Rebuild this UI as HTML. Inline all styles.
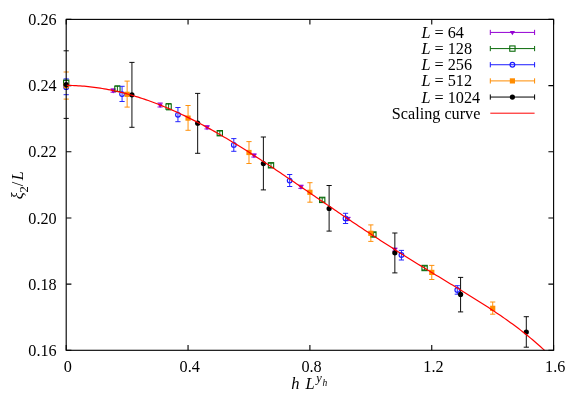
<!DOCTYPE html><html><head><meta charset="utf-8"><style>html,body{margin:0;padding:0;background:#fff}svg{display:block;will-change:transform}text{font-family:"Liberation Serif",serif;font-size:16.2px;fill:#000}</style></head><body>
<svg width="581" height="407" viewBox="0 0 581 407">
<rect width="581" height="407" fill="#fff"/>
<path d="M66.20,350.3 v-5.2 M66.20,19.4 v5.2 M188.05,350.3 v-5.2 M188.05,19.4 v5.2 M309.90,350.3 v-5.2 M309.90,19.4 v5.2 M431.75,350.3 v-5.2 M431.75,19.4 v5.2 M553.60,350.3 v-5.2 M553.60,19.4 v5.2 M66.2,350.30 h5.2 M553.6,350.30 h-5.2 M66.2,284.12 h5.2 M553.6,284.12 h-5.2 M66.2,217.94 h5.2 M553.6,217.94 h-5.2 M66.2,151.76 h5.2 M553.6,151.76 h-5.2 M66.2,85.58 h5.2 M553.6,85.58 h-5.2 M66.2,19.40 h5.2 M553.6,19.40 h-5.2" stroke="#000" stroke-width="1.1" fill="none"/>
<path d="M63.60,84.22 h5.2 M63.60,86.62 h5.2" stroke="#9400d3" stroke-width="0.95" fill="none"/>
<path d="M63.60,83.92 L68.80,83.92 L66.20,88.32 Z" fill="#9400d3"/>
<path d="M113.15,88.83 V92.23 M110.55,88.83 h5.2 M110.55,92.23 h5.2" stroke="#9400d3" stroke-width="0.95" fill="none"/>
<path d="M110.55,89.03 L115.75,89.03 L113.15,93.43 Z" fill="#9400d3"/>
<path d="M160.10,102.99 V106.99 M157.50,102.99 h5.2 M157.50,106.99 h5.2" stroke="#9400d3" stroke-width="0.95" fill="none"/>
<path d="M157.50,103.49 L162.70,103.49 L160.10,107.89 Z" fill="#9400d3"/>
<path d="M207.05,125.74 V128.94 M204.45,125.74 h5.2 M204.45,128.94 h5.2" stroke="#9400d3" stroke-width="0.95" fill="none"/>
<path d="M204.45,125.84 L209.65,125.84 L207.05,130.24 Z" fill="#9400d3"/>
<path d="M254.00,153.86 V157.06 M251.40,153.86 h5.2 M251.40,157.06 h5.2" stroke="#9400d3" stroke-width="0.95" fill="none"/>
<path d="M251.40,153.96 L256.60,153.96 L254.00,158.36 Z" fill="#9400d3"/>
<path d="M300.95,185.21 V188.41 M298.35,185.21 h5.2 M298.35,188.41 h5.2" stroke="#9400d3" stroke-width="0.95" fill="none"/>
<path d="M298.35,185.31 L303.55,185.31 L300.95,189.71 Z" fill="#9400d3"/>
<path d="M347.90,217.35 V220.35 M345.30,217.35 h5.2 M345.30,220.35 h5.2" stroke="#9400d3" stroke-width="0.95" fill="none"/>
<path d="M345.30,217.35 L350.50,217.35 L347.90,221.75 Z" fill="#9400d3"/>
<path d="M394.85,248.12 V251.12 M392.25,248.12 h5.2 M392.25,251.12 h5.2" stroke="#9400d3" stroke-width="0.95" fill="none"/>
<path d="M392.25,248.12 L397.45,248.12 L394.85,252.52 Z" fill="#9400d3"/>
<path d="M63.60,80.40 h5.2 M63.60,85.00 h5.2" stroke="#0a6b0a" stroke-width="0.95" fill="none"/>
<rect x="63.55" y="80.05" width="5.3" height="5.3" fill="none" stroke="#0a6b0a" stroke-width="1.1"/>
<path d="M117.40,85.90 V91.60 M114.80,85.90 h5.2 M114.80,91.60 h5.2" stroke="#0a6b0a" stroke-width="0.95" fill="none"/>
<rect x="114.75" y="86.15" width="5.3" height="5.3" fill="none" stroke="#0a6b0a" stroke-width="1.1"/>
<path d="M168.60,103.60 V109.90 M166.00,103.60 h5.2 M166.00,109.90 h5.2" stroke="#0a6b0a" stroke-width="0.95" fill="none"/>
<rect x="165.95" y="103.95" width="5.3" height="5.3" fill="none" stroke="#0a6b0a" stroke-width="1.1"/>
<path d="M219.80,131.00 V135.40 M217.20,131.00 h5.2 M217.20,135.40 h5.2" stroke="#0a6b0a" stroke-width="0.95" fill="none"/>
<rect x="217.15" y="130.55" width="5.3" height="5.3" fill="none" stroke="#0a6b0a" stroke-width="1.1"/>
<path d="M271.00,163.20 V167.40 M268.40,163.20 h5.2 M268.40,167.40 h5.2" stroke="#0a6b0a" stroke-width="0.95" fill="none"/>
<rect x="268.35" y="162.65" width="5.3" height="5.3" fill="none" stroke="#0a6b0a" stroke-width="1.1"/>
<path d="M322.20,197.90 V201.90 M319.60,197.90 h5.2 M319.60,201.90 h5.2" stroke="#0a6b0a" stroke-width="0.95" fill="none"/>
<rect x="319.55" y="197.25" width="5.3" height="5.3" fill="none" stroke="#0a6b0a" stroke-width="1.1"/>
<path d="M373.40,232.60 V236.40 M370.80,232.60 h5.2 M370.80,236.40 h5.2" stroke="#0a6b0a" stroke-width="0.95" fill="none"/>
<rect x="370.75" y="231.85" width="5.3" height="5.3" fill="none" stroke="#0a6b0a" stroke-width="1.1"/>
<path d="M424.60,266.10 V269.90 M422.00,266.10 h5.2 M422.00,269.90 h5.2" stroke="#0a6b0a" stroke-width="0.95" fill="none"/>
<rect x="421.95" y="265.35" width="5.3" height="5.3" fill="none" stroke="#0a6b0a" stroke-width="1.1"/>
<path d="M63.60,78.90 h5.2 M63.60,94.70 h5.2" stroke="#1a1aff" stroke-width="0.95" fill="none"/>
<circle cx="66.20" cy="87.20" r="2.35" fill="none" stroke="#1a1aff" stroke-width="1.15"/>
<path d="M122.07,86.30 V101.50 M119.47,86.30 h5.2 M119.47,101.50 h5.2" stroke="#1a1aff" stroke-width="0.95" fill="none"/>
<circle cx="122.07" cy="94.10" r="2.35" fill="none" stroke="#1a1aff" stroke-width="1.15"/>
<path d="M177.94,107.50 V121.70 M175.34,107.50 h5.2 M175.34,121.70 h5.2" stroke="#1a1aff" stroke-width="0.95" fill="none"/>
<circle cx="177.94" cy="114.80" r="2.35" fill="none" stroke="#1a1aff" stroke-width="1.15"/>
<path d="M233.81,138.60 V151.30 M231.21,138.60 h5.2 M231.21,151.30 h5.2" stroke="#1a1aff" stroke-width="0.95" fill="none"/>
<circle cx="233.81" cy="144.90" r="2.35" fill="none" stroke="#1a1aff" stroke-width="1.15"/>
<path d="M289.68,174.50 V186.50 M287.08,174.50 h5.2 M287.08,186.50 h5.2" stroke="#1a1aff" stroke-width="0.95" fill="none"/>
<circle cx="289.68" cy="180.60" r="2.35" fill="none" stroke="#1a1aff" stroke-width="1.15"/>
<path d="M345.55,213.30 V223.50 M342.95,213.30 h5.2 M342.95,223.50 h5.2" stroke="#1a1aff" stroke-width="0.95" fill="none"/>
<circle cx="345.55" cy="218.40" r="2.35" fill="none" stroke="#1a1aff" stroke-width="1.15"/>
<path d="M401.42,250.40 V260.00 M398.82,250.40 h5.2 M398.82,260.00 h5.2" stroke="#1a1aff" stroke-width="0.95" fill="none"/>
<circle cx="401.42" cy="255.00" r="2.35" fill="none" stroke="#1a1aff" stroke-width="1.15"/>
<path d="M457.29,285.70 V294.20 M454.69,285.70 h5.2 M454.69,294.20 h5.2" stroke="#1a1aff" stroke-width="0.95" fill="none"/>
<circle cx="457.29" cy="290.00" r="2.35" fill="none" stroke="#1a1aff" stroke-width="1.15"/>
<path d="M63.60,72.00 h5.2 M63.60,99.10 h5.2" stroke="#ff8c00" stroke-width="0.95" fill="none"/>
<rect x="63.60" y="83.00" width="5.2" height="5.2" fill="#ff8c00"/>
<path d="M127.13,81.10 V107.10 M124.53,81.10 h5.2 M124.53,107.10 h5.2" stroke="#ff8c00" stroke-width="0.95" fill="none"/>
<rect x="124.53" y="91.70" width="5.2" height="5.2" fill="#ff8c00"/>
<path d="M188.06,105.50 V130.30 M185.46,105.50 h5.2 M185.46,130.30 h5.2" stroke="#ff8c00" stroke-width="0.95" fill="none"/>
<rect x="185.46" y="115.50" width="5.2" height="5.2" fill="#ff8c00"/>
<path d="M248.99,141.60 V163.50 M246.39,141.60 h5.2 M246.39,163.50 h5.2" stroke="#ff8c00" stroke-width="0.95" fill="none"/>
<rect x="246.39" y="149.90" width="5.2" height="5.2" fill="#ff8c00"/>
<path d="M309.92,182.70 V202.20 M307.32,182.70 h5.2 M307.32,202.20 h5.2" stroke="#ff8c00" stroke-width="0.95" fill="none"/>
<rect x="307.32" y="189.70" width="5.2" height="5.2" fill="#ff8c00"/>
<path d="M370.85,224.90 V241.40 M368.25,224.90 h5.2 M368.25,241.40 h5.2" stroke="#ff8c00" stroke-width="0.95" fill="none"/>
<rect x="368.25" y="230.70" width="5.2" height="5.2" fill="#ff8c00"/>
<path d="M431.78,265.40 V279.50 M429.18,265.40 h5.2 M429.18,279.50 h5.2" stroke="#ff8c00" stroke-width="0.95" fill="none"/>
<rect x="429.18" y="269.80" width="5.2" height="5.2" fill="#ff8c00"/>
<path d="M492.71,302.00 V314.20 M490.11,302.00 h5.2 M490.11,314.20 h5.2" stroke="#ff8c00" stroke-width="0.95" fill="none"/>
<rect x="490.11" y="305.70" width="5.2" height="5.2" fill="#ff8c00"/>
<path d="M63.60,50.80 h5.2 M63.60,118.40 h5.2" stroke="#000000" stroke-width="0.95" fill="none"/>
<circle cx="66.20" cy="84.60" r="2.6" fill="#000000"/>
<path d="M131.93,62.40 V127.30 M129.33,62.40 h5.2 M129.33,127.30 h5.2" stroke="#000000" stroke-width="0.95" fill="none"/>
<circle cx="131.93" cy="94.80" r="2.6" fill="#000000"/>
<path d="M197.66,93.40 V153.30 M195.06,93.40 h5.2 M195.06,153.30 h5.2" stroke="#000000" stroke-width="0.95" fill="none"/>
<circle cx="197.66" cy="123.20" r="2.6" fill="#000000"/>
<path d="M263.39,137.00 V189.90 M260.79,137.00 h5.2 M260.79,189.90 h5.2" stroke="#000000" stroke-width="0.95" fill="none"/>
<circle cx="263.39" cy="163.60" r="2.6" fill="#000000"/>
<path d="M329.12,185.50 V231.10 M326.52,185.50 h5.2 M326.52,231.10 h5.2" stroke="#000000" stroke-width="0.95" fill="none"/>
<circle cx="329.12" cy="208.50" r="2.6" fill="#000000"/>
<path d="M394.85,233.00 V272.90 M392.25,233.00 h5.2 M392.25,272.90 h5.2" stroke="#000000" stroke-width="0.95" fill="none"/>
<circle cx="394.85" cy="252.80" r="2.6" fill="#000000"/>
<path d="M460.58,277.40 V311.90 M457.98,277.40 h5.2 M457.98,311.90 h5.2" stroke="#000000" stroke-width="0.95" fill="none"/>
<circle cx="460.58" cy="294.40" r="2.6" fill="#000000"/>
<path d="M526.31,316.70 V347.20 M523.71,316.70 h5.2 M523.71,347.20 h5.2" stroke="#000000" stroke-width="0.95" fill="none"/>
<circle cx="526.31" cy="332.00" r="2.6" fill="#000000"/>
<path d="M66.20,85.42 L68.20,85.44 L70.20,85.47 L72.21,85.52 L74.21,85.59 L76.21,85.68 L78.21,85.78 L80.21,85.91 L82.21,86.05 L84.22,86.21 L86.22,86.39 L88.22,86.59 L90.22,86.80 L92.22,87.04 L94.22,87.29 L96.23,87.56 L98.23,87.84 L100.23,88.15 L102.23,88.47 L104.23,88.81 L106.23,89.16 L108.24,89.54 L110.24,89.93 L112.24,90.34 L114.24,90.76 L116.24,91.21 L118.24,91.67 L120.25,92.14 L122.25,92.64 L124.25,93.15 L126.25,93.68 L128.25,94.22 L130.25,94.78 L132.26,95.35 L134.26,95.95 L136.26,96.56 L138.26,97.18 L140.26,97.82 L142.26,98.48 L144.27,99.15 L146.27,99.83 L148.27,100.54 L150.27,101.25 L152.27,101.99 L154.27,102.73 L156.28,103.50 L158.28,104.27 L160.28,105.07 L162.28,105.87 L164.28,106.69 L166.28,107.53 L168.29,108.37 L170.29,109.24 L172.29,110.11 L174.29,111.00 L176.29,111.91 L178.29,112.82 L180.30,113.75 L182.30,114.69 L184.30,115.65 L186.30,116.62 L188.30,117.60 L190.30,118.59 L192.31,119.59 L194.31,120.61 L196.31,121.64 L198.31,122.67 L200.31,123.73 L202.31,124.79 L204.32,125.86 L206.32,126.94 L208.32,128.04 L210.32,129.14 L212.32,130.26 L214.32,131.38 L216.33,132.52 L218.33,133.66 L220.33,134.82 L222.33,135.98 L224.33,137.15 L226.33,138.33 L228.34,139.52 L230.34,140.72 L232.34,141.93 L234.34,143.14 L236.34,144.37 L238.34,145.60 L240.35,146.83 L242.35,148.08 L244.35,149.33 L246.35,150.59 L248.35,151.86 L250.35,153.13 L252.36,154.41 L254.36,155.69 L256.36,156.98 L258.36,158.28 L260.36,159.58 L262.36,160.89 L264.37,162.20 L266.37,163.52 L268.37,164.84 L270.37,166.16 L272.37,167.49 L274.37,168.83 L276.38,170.16 L278.38,171.50 L280.38,172.85 L282.38,174.20 L284.38,175.55 L286.38,176.90 L288.39,178.26 L290.39,179.62 L292.39,180.98 L294.39,182.34 L296.39,183.70 L298.39,185.07 L300.40,186.44 L302.40,187.80 L304.40,189.17 L306.40,190.54 L308.40,191.91 L310.40,193.29 L312.41,194.66 L314.41,196.03 L316.41,197.40 L318.41,198.77 L320.41,200.14 L322.41,201.51 L324.42,202.88 L326.42,204.25 L328.42,205.62 L330.42,206.99 L332.42,208.35 L334.42,209.72 L336.43,211.08 L338.43,212.44 L340.43,213.80 L342.43,215.15 L344.43,216.51 L346.43,217.86 L348.44,219.21 L350.44,220.56 L352.44,221.90 L354.44,223.24 L356.44,224.58 L358.44,225.92 L360.45,227.25 L362.45,228.58 L364.45,229.91 L366.45,231.23 L368.45,232.55 L370.45,233.87 L372.46,235.18 L374.46,236.49 L376.46,237.79 L378.46,239.10 L380.46,240.39 L382.46,241.69 L384.47,242.98 L386.47,244.27 L388.47,245.55 L390.47,246.83 L392.47,248.11 L394.47,249.38 L396.48,250.65 L398.48,251.92 L400.48,253.18 L402.48,254.44 L404.48,255.70 L406.48,256.95 L408.49,258.20 L410.49,259.44 L412.49,260.68 L414.49,261.92 L416.49,263.16 L418.49,264.39 L420.50,265.63 L422.50,266.85 L424.50,268.08 L426.50,269.30 L428.50,270.53 L430.50,271.75 L432.51,272.97 L434.51,274.18 L436.51,275.40 L438.51,276.61 L440.51,277.83 L442.51,279.04 L444.52,280.26 L446.52,281.47 L448.52,282.68 L450.52,283.90 L452.52,285.11 L454.52,286.33 L456.53,287.55 L458.53,288.77 L460.53,289.99 L462.53,291.21 L464.53,292.44 L466.53,293.67 L468.54,294.91 L470.54,296.15 L472.54,297.39 L474.54,298.64 L476.54,299.90 L478.54,301.16 L480.55,302.43 L482.55,303.70 L484.55,304.98 L486.55,306.28 L488.55,307.58 L490.55,308.89 L492.56,310.20 L494.56,311.53 L496.56,312.88 L498.56,314.23 L500.56,315.60 L502.56,316.97 L504.57,318.37 L506.57,319.78 L508.57,321.20 L510.57,322.64 L512.57,324.10 L514.57,325.57 L516.58,327.06 L518.58,328.58 L520.58,330.11 L522.58,331.66 L524.58,333.24 L526.58,334.84 L528.59,336.46 L530.59,338.11 L532.59,339.78 L534.59,341.48 L536.59,343.21 L538.59,344.97 L540.60,346.75 L542.60,348.57 L544.60,350.42" stroke="#ff0000" stroke-width="1.2" fill="none"/>
<rect x="66.2" y="19.4" width="487.40" height="330.90" fill="none" stroke="#000" stroke-width="1.12"/>
<path d="M490.3,32.42 H534.6 M490.3,29.82 v5.2 M534.6,29.82 v5.2" stroke="#9400d3" stroke-width="1" fill="none"/>
<path d="M509.80,30.92 L515.00,30.92 L512.40,35.32 Z" fill="#9400d3"/>
<text x="421.5" y="37.8"><tspan style="font-style:italic">L</tspan> = 64</text>
<path d="M490.3,48.58 H534.6 M490.3,45.98 v5.2 M534.6,45.98 v5.2" stroke="#0a6b0a" stroke-width="1" fill="none"/>
<rect x="509.75" y="45.93" width="5.3" height="5.3" fill="none" stroke="#0a6b0a" stroke-width="1.1"/>
<text x="421.5" y="54.0"><tspan style="font-style:italic">L</tspan> = 128</text>
<path d="M490.3,64.74 H534.6 M490.3,62.13999999999999 v5.2 M534.6,62.13999999999999 v5.2" stroke="#1a1aff" stroke-width="1" fill="none"/>
<circle cx="512.40" cy="64.74" r="2.35" fill="none" stroke="#1a1aff" stroke-width="1.15"/>
<text x="421.5" y="70.1"><tspan style="font-style:italic">L</tspan> = 256</text>
<path d="M490.3,80.9 H534.6 M490.3,78.30000000000001 v5.2 M534.6,78.30000000000001 v5.2" stroke="#ff8c00" stroke-width="1" fill="none"/>
<rect x="509.80" y="78.30" width="5.2" height="5.2" fill="#ff8c00"/>
<text x="421.5" y="86.3"><tspan style="font-style:italic">L</tspan> = 512</text>
<path d="M490.3,97.05 H534.6 M490.3,94.45 v5.2 M534.6,94.45 v5.2" stroke="#000000" stroke-width="1" fill="none"/>
<circle cx="512.40" cy="97.05" r="2.6" fill="#000000"/>
<text x="421.5" y="102.5"><tspan style="font-style:italic">L</tspan> = 1024</text>
<path d="M490.3,113.2 H534.6" stroke="#ff0000" stroke-width="1" fill="none"/>
<text x="480.4" y="118.6" text-anchor="end">Scaling curve</text>
<text x="56.7" y="355.9" text-anchor="end">0.16</text>
<text x="56.7" y="289.7" text-anchor="end">0.18</text>
<text x="56.7" y="223.5" text-anchor="end">0.20</text>
<text x="56.7" y="157.4" text-anchor="end">0.22</text>
<text x="56.7" y="91.2" text-anchor="end">0.24</text>
<text x="56.7" y="25.0" text-anchor="end">0.26</text>
<text x="67.8" y="372.3" text-anchor="middle">0</text>
<text x="189.7" y="372.3" text-anchor="middle">0.4</text>
<text x="311.5" y="372.3" text-anchor="middle">0.8</text>
<text x="433.4" y="372.3" text-anchor="middle">1.2</text>
<text x="555.2" y="372.3" text-anchor="middle">1.6</text>
<text x="291.3" y="389.4" style="font-style:italic;font-size:16.5px">h</text>
<text x="305.6" y="389.4" style="font-style:italic;font-size:16.5px">L</text>
<text x="316.3" y="381.7" style="font-style:italic;font-size:12.5px">y</text>
<text x="322.6" y="385.5" style="font-style:italic;font-size:9.5px">h</text>
<g transform="translate(22.7,199.2) rotate(-90)"><text x="0" y="0" style="font-style:italic">ξ</text><text x="6.8" y="5.3" style="font-size:12.5px">2</text><text x="12.9" y="0">/</text><text x="19.0" y="0" style="font-style:italic">L</text></g>
</svg></body></html>
